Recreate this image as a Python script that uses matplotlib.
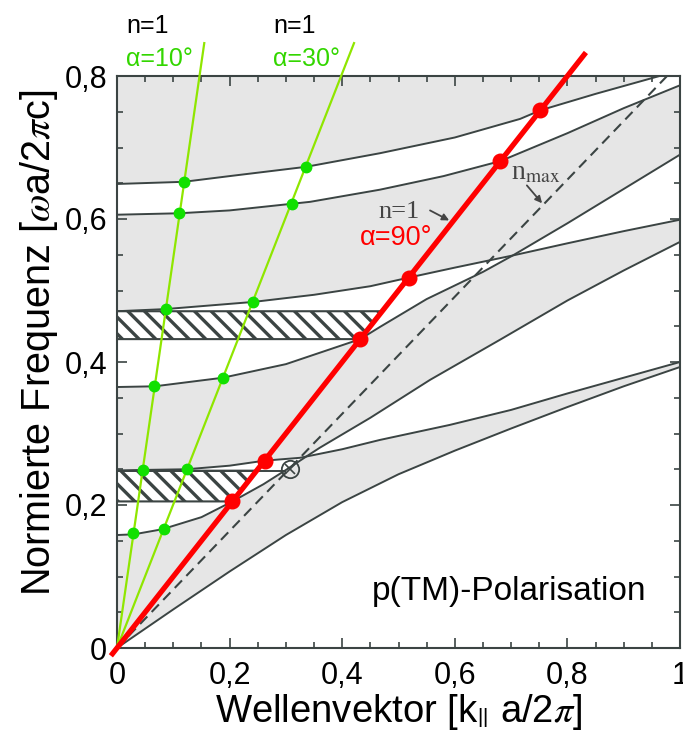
import matplotlib
matplotlib.use("Agg")
import matplotlib.pyplot as plt
from matplotlib.patches import Polygon
from matplotlib.ticker import MultipleLocator
import numpy as np

plt.rcParams['font.family'] = ['Liberation Sans', 'DejaVu Sans']
plt.rcParams['mathtext.fontset'] = 'stix'
plt.rcParams['hatch.linewidth'] = 2.4

DARK = '#3b4443'
GRAY = '#e6e6e6'
RED = '#ff0000'
GREEN_LINE = '#8fe600'
GREEN_DOT = '#11e000'
GREEN_TEXT = '#33d600'

# band edges: k_par (a/2pi) -> frequency (wa/2pic)
L1_k = [0.0, 0.1, 0.2, 0.3, 0.4, 0.5, 0.6, 0.7, 0.8, 0.9, 1.0]
L1_w = [0.0, 0.054, 0.107, 0.158, 0.204, 0.243, 0.276, 0.307, 0.337, 0.366, 0.393]

U1_k = [0.0, 0.03, 0.08, 0.15, 0.205, 0.26, 0.30, 0.325, 0.36, 0.45, 0.556, 0.68, 0.8, 0.9, 1.0]
U1_w = [0.158, 0.159, 0.166, 0.183, 0.205, 0.229, 0.249, 0.262, 0.280, 0.322, 0.375, 0.431, 0.486, 0.528, 0.568]

L2_k = [0.0, 0.043, 0.124, 0.2, 0.262, 0.325, 0.4, 0.467, 0.591, 0.7, 0.8, 0.9, 1.0]
L2_w = [0.248, 0.249, 0.250, 0.255, 0.262, 0.266, 0.278, 0.291, 0.312, 0.333, 0.356, 0.378, 0.400]

U2_k = [0.0, 0.067, 0.188, 0.3, 0.432, 0.467, 0.55, 0.65, 0.703, 0.8, 0.9, 1.0]
U2_w = [0.365, 0.366, 0.378, 0.397, 0.432, 0.449, 0.488, 0.526, 0.549, 0.594, 0.642, 0.690]

L3_k = [0.0, 0.086, 0.242, 0.35, 0.45, 0.518, 0.6, 0.703, 0.8, 0.9, 1.0]
L3_w = [0.471, 0.474, 0.484, 0.494, 0.506, 0.518, 0.532, 0.549, 0.566, 0.583, 0.599]

U3_k = [0.0, 0.11, 0.2, 0.307, 0.343, 0.467, 0.58, 0.681, 0.8, 0.9, 1.0]
U3_w = [0.606, 0.608, 0.612, 0.621, 0.624, 0.641, 0.660, 0.681, 0.720, 0.755, 0.787]

L4_k = [0.0, 0.1185, 0.2, 0.336, 0.467, 0.6, 0.716, 0.752, 0.85, 0.95, 1.0]
L4_w = [0.649, 0.652, 0.660, 0.673, 0.692, 0.714, 0.740, 0.752, 0.775, 0.797, 0.808]

# light lines
nmax_k = [0.0, 0.977]
nmax_w = [0.0, 0.800]
red_k = [-0.008, 0.83]
red_w = [-0.008, 0.83]
g10_k = [0.0, 0.155]
g10_w = [0.0, 0.846]
g30_k = [0.0, 0.421]
g30_w = [0.0, 0.846]

# intersection points
g10_dot_k = [0.1185, 0.1105, 0.0862, 0.0665, 0.0453, 0.0293]
g10_dot_w = [0.652, 0.608, 0.474, 0.366, 0.249, 0.161]
g30_dot_k = [0.336, 0.310, 0.242, 0.189, 0.125, 0.083]
g30_dot_w = [0.673, 0.621, 0.484, 0.378, 0.250, 0.166]
red_dot_k = [0.205, 0.262, 0.432, 0.518, 0.681, 0.752]
red_dot_w = [0.205, 0.262, 0.432, 0.518, 0.681, 0.752]
brewster_k = [0.307]
brewster_w = [0.250]

# omnidirectional gaps (hatched)
hatch_lo_k = [0.0, 0.205, 0.248, 0.0]
hatch_lo_w = [0.205, 0.205, 0.248, 0.248]
hatch_hi_k = [0.0, 0.432, 0.471, 0.0]
hatch_hi_w = [0.432, 0.432, 0.471, 0.471]

xticks = [0.0, 0.2, 0.4, 0.6, 0.8, 1.0]
xtick_labels = ['0', '0,2', '0,4', '0,6', '0,8', '1']
yticks = [0.0, 0.2, 0.4, 0.6, 0.8]
ytick_labels = ['0', '0,2', '0,4', '0,6', '0,8']


fig = plt.figure(figsize=(6.83, 7.36), dpi=100)
ax = fig.add_axes([117 / 683, 88 / 736, 563 / 683, 572 / 736])
ax.set_facecolor(GRAY)
ax.set_xlim(0, 1)
ax.set_ylim(0, 0.8)

# gaps in white
ax.fill(np.r_[L1_k, 1.0], np.r_[L1_w, 0.0], color='white', lw=0, zorder=1)
for lo_k, lo_w, hi_k, hi_w in [(U1_k, U1_w, L2_k, L2_w),
                               (U2_k, U2_w, L3_k, L3_w),
                               (U3_k, U3_w, L4_k, L4_w)]:
    ax.fill(np.r_[lo_k, hi_k[::-1]], np.r_[lo_w, hi_w[::-1]],
            color='white', lw=0, zorder=1)

for k, w in [(L1_k, L1_w), (U1_k, U1_w), (L2_k, L2_w), (U2_k, U2_w),
             (L3_k, L3_w), (U3_k, U3_w), (L4_k, L4_w)]:
    ax.plot(k, w, color=DARK, lw=1.4, zorder=2)

ax.plot(nmax_k, nmax_w, color=DARK, lw=1.5, ls=(0, (5, 3)), zorder=2)

for hk, hw in [(hatch_lo_k, hatch_lo_w), (hatch_hi_k, hatch_hi_w)]:
    ax.add_patch(Polygon(np.column_stack([hk, hw]), closed=True,
                         facecolor='white', edgecolor=DARK, hatch=r'\\',
                         lw=1.5, zorder=3))
ax.plot([0.0, 0.298], [0.248, 0.248], color=DARK, lw=1.4, zorder=3)

ax.plot(brewster_k, brewster_w, 'o', ms=12.5, mfc='none', mec=DARK, mew=1.3, zorder=5)
ax.plot(brewster_k, brewster_w, 'x', ms=7, mec=DARK, mew=1.2, zorder=5)

ax.plot(g10_k, g10_w, color=GREEN_LINE, lw=1.6, clip_on=False, zorder=4)
ax.plot(g30_k, g30_w, color=GREEN_LINE, lw=1.6, clip_on=False, zorder=4)
ax.plot(g10_dot_k, g10_dot_w, 'o', ms=7.5, color=GREEN_DOT, zorder=5)
ax.plot(g30_dot_k, g30_dot_w, 'o', ms=7.5, color=GREEN_DOT, zorder=5)

ax.plot(red_k, red_w, color=RED, lw=3.8, clip_on=False, zorder=6)
ax.plot(red_dot_k, red_dot_w, 'o', ms=10.5, color=RED, zorder=7)

# labels
ax.text(0.016, 0.860, 'n=1', fontsize=18, color='black', clip_on=False)
ax.text(0.016, 0.814, 'α=10°', fontsize=18, color=GREEN_TEXT, clip_on=False)
ax.text(0.277, 0.860, 'n=1', fontsize=18, color='black', clip_on=False)
ax.text(0.277, 0.814, 'α=30°', fontsize=18, color=GREEN_TEXT, clip_on=False)

ax.text(0.465, 0.601, 'n=1', fontsize=19, color='#444444',
        family=['Liberation Serif', 'DejaVu Serif'], zorder=8)
ax.annotate('', xy=(0.590, 0.598), xytext=(0.556, 0.612),
            arrowprops=dict(arrowstyle='-|>', color='#444444', lw=1.3,
                            mutation_scale=10, shrinkA=0, shrinkB=0), zorder=8)
ax.text(0.432, 0.564, 'α=90°', fontsize=19.5, color=RED, zorder=8)

ax.text(0.700, 0.655, r'n$_{\mathrm{max}}$', fontsize=20, color='#444444',
        family=['Liberation Serif', 'DejaVu Serif'], zorder=8)
ax.annotate('', xy=(0.755, 0.622), xytext=(0.728, 0.647),
            arrowprops=dict(arrowstyle='-|>', color='#444444', lw=1.3,
                            mutation_scale=10, shrinkA=0, shrinkB=0), zorder=8)

ax.text(0.453, 0.067, 'p(TM)-Polarisation', fontsize=24, color='black', zorder=8)

# axes styling
ax.set_xticks(xticks)
ax.set_xticklabels(xtick_labels)
ax.set_yticks(yticks)
ax.set_yticklabels(ytick_labels)
ax.xaxis.set_minor_locator(MultipleLocator(0.05))
ax.yaxis.set_minor_locator(MultipleLocator(0.05))
ax.tick_params(which='both', direction='in', top=True, right=True,
               color=DARK, width=1.2, labelsize=22)
ax.tick_params(which='major', length=7)
ax.tick_params(which='minor', length=4)
ax.tick_params(axis='x', pad=9)
ax.tick_params(axis='y', pad=7)
for s in ax.spines.values():
    s.set_color(DARK)
    s.set_linewidth(1.5)

ax.text(0.5, -0.129, r'Wellenvektor [k$_{||}$ a/2$\pi$]', fontsize=27.5,
        transform=ax.transAxes, ha='center', va='baseline')
ax.text(-0.119, 0.533, r'Normierte Frequenz [$\omega$a/2$\pi$c]', fontsize=28.5,
        transform=ax.transAxes, ha='center', va='baseline',
        rotation=90, rotation_mode='anchor')

fig.savefig('out.png', dpi=100)
